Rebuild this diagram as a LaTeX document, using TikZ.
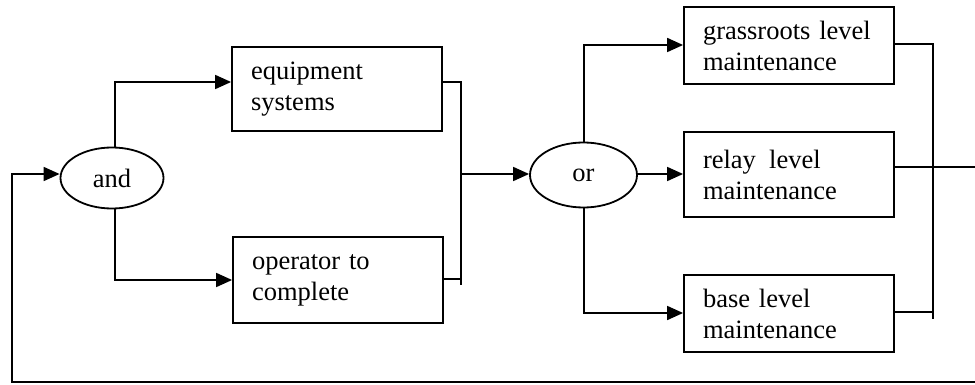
\documentclass[tikz,border=0pt]{standalone}
\usepackage{fontspec}
\setmainfont{Liberation Serif}
\usetikzlibrary{arrows.meta,shapes.geometric}
\begin{document}
\begin{tikzpicture}[x=1pt,y=-1pt,
  box/.style={draw,line width=1.8pt,rectangle,inner xsep=19pt,inner ysep=0pt,text width=172pt,align=left,minimum width=210pt,font=\fontsize{26.5}{31}\selectfont},
  gate/.style={draw,line width=1.8pt,ellipse,inner sep=0pt,font=\fontsize{26.5}{31}\selectfont},
  wire/.style={line width=1.8pt},
  arr/.style={wire,-{Triangle[length=16pt,width=14pt]}}]
\useasboundingbox (0,0) rectangle (975,385);

\node[gate,minimum width=103pt,minimum height=61pt] (and) at (112,178) {and};
\node[gate,minimum width=107pt,minimum height=65pt] (or) at (583.5,175) {or};
\node[box,minimum height=84pt] (equip) at (337,89) {equipment\\systems};
\node[box,minimum height=86pt] (oper) at (338,280) {operator to\\complete};
\node[box,minimum height=77pt] (grass) at (789,45.5) {grassroots level\\maintenance};
\node[box,minimum height=85pt] (relay) at (789,174.5) {relay\hspace{0.5em}level\\maintenance};
\node[box,minimum height=77pt] (base) at (789,313.5) {base level\\maintenance};

% and branches
\coordinate (a1) at (115,82);
\coordinate (a2) at (115,280);
\draw[arr] (a1 |- and.north) -- (a1) -- (a1 -| equip.west);
\draw[arr] (a2 |- and.south) -- (a2) -- (a2 -| oper.west);

% join into or
\coordinate (j1t) at (461,82);
\coordinate (j1b) at (461,285);
\coordinate (j1o) at (461,279);
\coordinate (j1m) at (461,174);
\draw[wire] (j1t -| equip.east) -- (j1t) -- (j1b);
\draw[wire] (j1o -| oper.east) -- (j1o);
\draw[arr] (j1m) -- (j1m -| or.west);

% or branches
\coordinate (o1) at (584,45);
\coordinate (o2) at (584,174);
\coordinate (o3) at (584,313);
\draw[arr] (o1 |- or.north) -- (o1) -- (o1 -| grass.west);
\draw[arr] (o2 -| or.east) -- (o2 -| relay.west);
\draw[arr] (o3 |- or.south) -- (o3) -- (o3 -| base.west);

% right join
\coordinate (r1) at (933,44);
\coordinate (r2) at (933,319);
\coordinate (r3) at (933,312);
\coordinate (rout) at (975,167);
\draw[wire] (r1 -| grass.east) -- (r1) -- (r2);
\draw[wire] (r3 -| base.east) -- (r3);
\draw[wire] (rout -| relay.east) -- (rout);

% feedback
\coordinate (f1) at (975,382);
\coordinate (f2) at (12,382);
\coordinate (f3) at (12,174);
\draw[arr] (f1) -- (f2) -- (f3) -- (f3 -| and.west);
\end{tikzpicture}
\end{document}
